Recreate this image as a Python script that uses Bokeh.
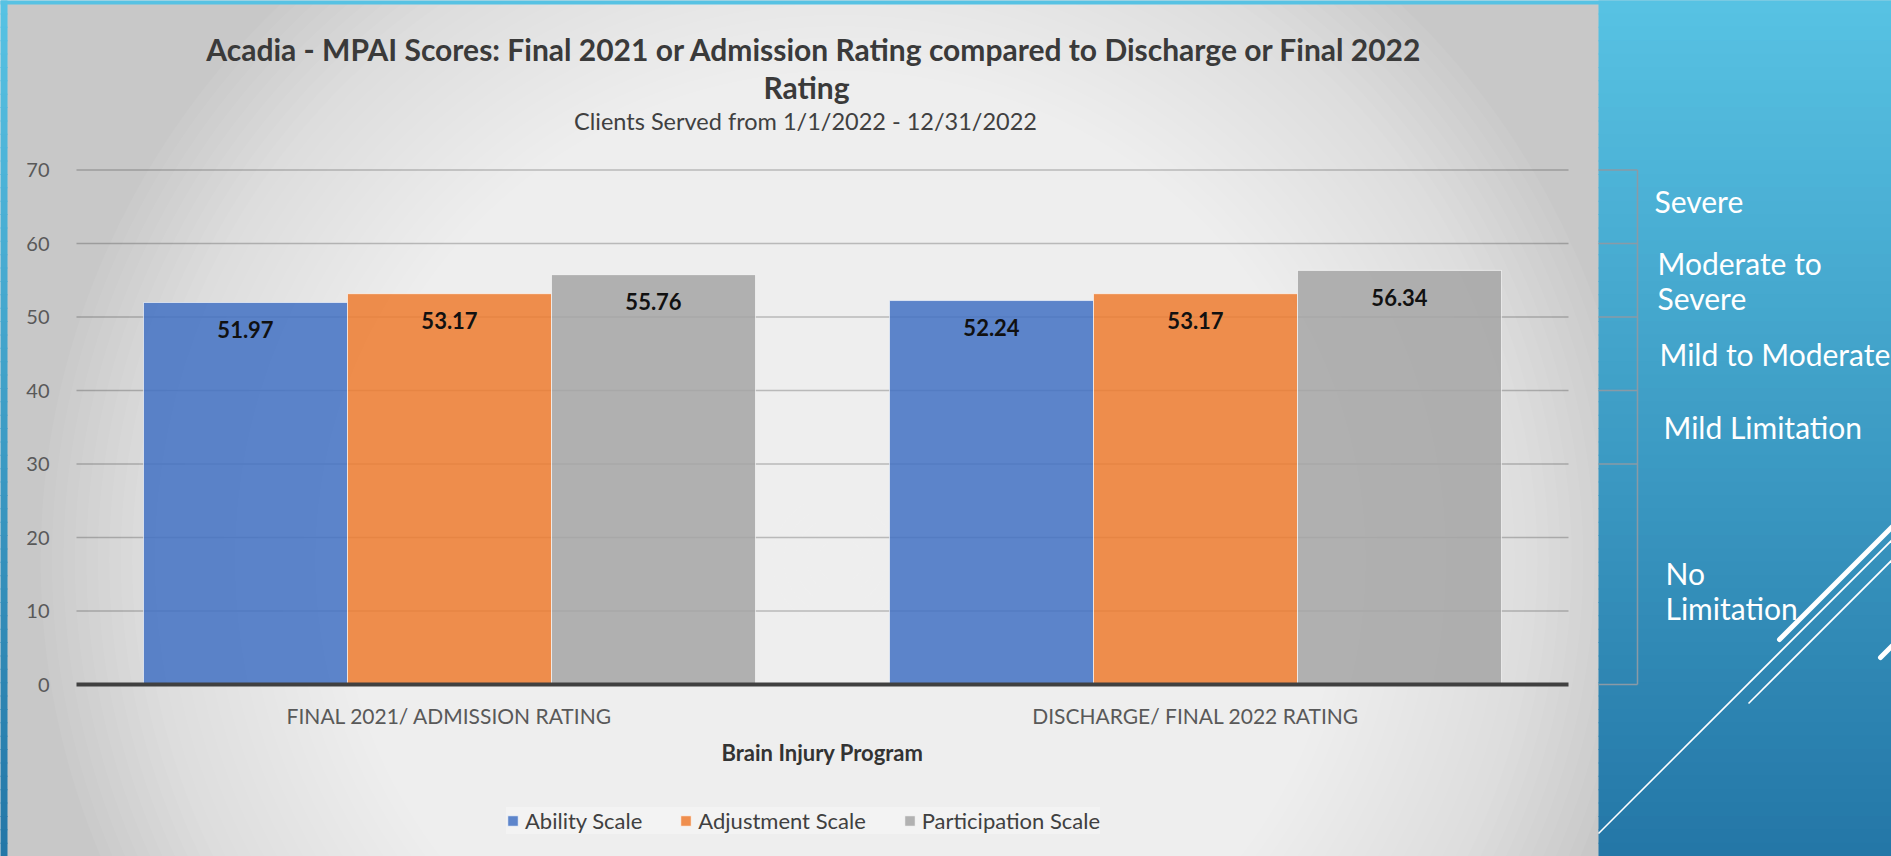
from bokeh.plotting import figure
from bokeh.models import Range1d, FixedTicker, LinearAxis, Legend, LegendItem, ColumnDataSource
from bokeh.core.properties import value
from bokeh.embed import file_html
from bokeh.resources import INLINE

# ---------------- data ----------------
categories = ["FINAL 2021/ ADMISSION RATING", "DISCHARGE/ FINAL 2022 RATING"]
series_names = ["Ability Scale", "Adjustment Scale", "Participation Scale"]
ability = [51.97, 52.24]
adjustment = [53.17, 53.17]
participation = [55.76, 56.34]
y_ticks = [0, 10, 20, 30, 40, 50, 60, 70]
band_edges = [70, 60, 50, 40, 30, 0]
band_labels = ["Severe", "Moderate to\nSevere", "Mild to Moderate", "Mild Limitation", "No\nLimitation"]

title_lines = ["Acadia - MPAI Scores: Final 2021 or Admission Rating compared to Discharge or Final 2022",
               "Rating"]
subtitle = "Clients Served from 1/1/2022 - 12/31/2022"
x_axis_title = "Brain Injury Program"

# ---------------- layout / style ----------------
W, H = 1891, 856
PANEL_L, PANEL_T, PANEL_R = 7, 4, 1598
PLOT_L, PLOT_R = 76, 1568
PLOT_T, PLOT_B = 169.5, 684
Y_MAX = 70
ppu_y = (PLOT_B - PLOT_T) / Y_MAX
ppu_x = (PLOT_R - PLOT_L) / len(categories)
x_start = -0.5 - PLOT_L / ppu_x
x_end = x_start + W / ppu_x
y_start = -(H - PLOT_B) / ppu_y
y_end = Y_MAX + PLOT_T / ppu_y
BAR_W = 204 / ppu_x
colors = ["#4472C4", "#ED7D31", "#A5A5A5"]
FONT = "Lato"
PX = dict(x_range_name="px", y_range_name="py")

p = figure(width=W, height=H, x_range=Range1d(x_start, x_end), y_range=Range1d(y_start, y_end),
           output_backend="svg", toolbar_location=None, x_axis_location=None, y_axis_location=None,
           min_border=0, outline_line_color=None,
           background_fill_color="#c8c8c8", border_fill_color="#c8c8c8")
p.grid.visible = False
p.extra_x_ranges = {"px": Range1d(0, W)}
p.extra_y_ranges = {"py": Range1d(H, 0)}

# panel background: soft radial light
N = 70
cx, cy = 840, 560
for k in range(N, 0, -1):
    p.ellipse(x=[cx], y=[cy], width=[2 * 800 * k / N], height=[2 * 780 * k / N],
              fill_color="white", fill_alpha=0.0544, line_color=None, **PX)

# slide background (blue gradient) around the panel
nb = 64
top_c = (0x57, 0xc2, 0xe3)
bot_c = (0x24, 0x77, 0xa7)
bh = H / nb
bl, br, bt, bb, bc = [], [], [], [], []
for i in range(nb):
    t = i / (nb - 1)
    c = "#%02x%02x%02x" % tuple(int(round(top_c[j] + (bot_c[j] - top_c[j]) * t)) for j in range(3))
    for (l, r) in [(PANEL_R, W + 5), (-5, PANEL_L)]:
        bl.append(l); br.append(r)
        bt.append(i * bh - 0.5); bb.append((i + 1) * bh + 0.5)
        bc.append(c)
bl.append(-5); br.append(W + 5); bt.append(-5); bb.append(PANEL_T); bc.append("#%02x%02x%02x" % top_c)
p.quad(left=bl, right=br, top=bt, bottom=bb, fill_color=bc, line_color=None, **PX)

# decorative white strokes
p.segment(x0=[1598, 1748], y0=[833, 703], x1=[1900, 1900], y1=[531, 551],
          line_color="white", line_width=1.6, **PX)
p.segment(x0=[1779, 1880], y0=[639, 657], x1=[1900, 1900], y1=[518, 637],
          line_color="white", line_width=5, line_cap="round", **PX)

# brackets + band labels on the slide
p.segment(x0=[PANEL_R] * len(band_edges), x1=[PANEL_R + 39] * len(band_edges),
          y0=band_edges, y1=band_edges, line_color="#8a9aa6", line_width=1.5, x_range_name="px")
p.segment(x0=[PANEL_R + 39], x1=[PANEL_R + 39], y0=[min(band_edges)], y1=[max(band_edges)],
          line_color="#8a9aa6", line_width=1.5, x_range_name="px")
band_mid = [(band_edges[i] + band_edges[i + 1]) / 2 for i in range(len(band_labels))]
nudge_x = [-4, -1, 1, 5, 7]
nudge_y = [-6, 0, 0, 0, 16]
bsrc = ColumnDataSource(dict(x=[1658] * len(band_labels), y=band_mid, text=band_labels,
                             dx=nudge_x, dy=nudge_y))
p.text(x="x", y="y", text="text", x_offset="dx", y_offset="dy", source=bsrc, x_range_name="px",
       text_font=value(FONT), text_font_size="30px", text_color="white",
       text_align="left", text_baseline="middle", text_line_height=0.98)

# gridlines (under the semi-transparent bars)
p.segment(x0=[-0.5] * (len(y_ticks) - 1), x1=[len(categories) - 0.5] * (len(y_ticks) - 1),
          y0=y_ticks[1:], y1=y_ticks[1:], line_color="black", line_alpha=0.22, line_width=1.3)

# bars + labels
renderers = []
offsets = [-BAR_W, 0, BAR_W]
for vals, name, col, off in zip([ability, adjustment, participation], series_names, colors, offsets):
    src = ColumnDataSource(dict(x=[i + off for i in range(len(categories))], top=vals,
                                lab=["%.2f" % v for v in vals]))
    r = p.vbar(x="x", top="top", bottom=0, width=BAR_W, source=src, fill_color=col, fill_alpha=0.86,
               line_color="white", line_alpha=0.6, line_width=1)
    renderers.append((name, r))
    p.text(x="x", y="top", text="lab", source=src, y_offset=27, text_align="center",
           text_baseline="middle", text_font=value(FONT), text_font_style="bold",
           text_font_size="22px", text_color="#111111")

# axes
xaxis = LinearAxis(fixed_location=0, bounds=(-0.5, len(categories) - 0.5),
                   ticker=FixedTicker(ticks=list(range(len(categories)))),
                   major_label_overrides={i: c for i, c in enumerate(categories)},
                   axis_label=x_axis_title,
                   axis_line_color="#404040", axis_line_width=4,
                   major_tick_line_color=None, minor_tick_line_color=None,
                   major_tick_out=0, major_tick_in=0,
                   major_label_standoff=18, axis_label_standoff=8,
                   major_label_text_font=FONT, major_label_text_font_size="21px",
                   major_label_text_color="#595959",
                   axis_label_text_font=FONT, axis_label_text_font_style="bold",
                   axis_label_text_font_size="22px", axis_label_text_color="#333333")
p.add_layout(xaxis, "below")
yaxis = LinearAxis(fixed_location=-0.5, bounds=(0, Y_MAX), ticker=FixedTicker(ticks=y_ticks),
                   axis_line_color=None, major_tick_line_color=None, minor_tick_line_color=None,
                   major_tick_out=0, major_tick_in=0, major_label_standoff=27,
                   major_label_text_font=FONT, major_label_text_font_size="20px",
                   major_label_text_color="#595959")
p.add_layout(yaxis, "left")

# titles
p.text(x=[814, 806], y=[48, 86], text=title_lines, text_align="center", text_baseline="middle",
       text_font=value(FONT), text_font_style="bold", text_font_size="30px",
       text_color="#3a3a3a", **PX)
p.text(x=[805], y=[120], text=[subtitle], text_align="center", text_baseline="middle",
       text_font=value(FONT), text_font_size="23.5px", text_color="#404040", **PX)

# legend
legend = Legend(items=[LegendItem(label=n, renderers=[r]) for n, r in renderers],
                orientation="horizontal", location=(506, 22), padding=16, spacing=37,
                label_standoff=6, glyph_width=13, glyph_height=13,
                label_text_font=FONT, label_text_font_size="22px", label_text_color="#404040",
                background_fill_color="white", background_fill_alpha=0.3,
                border_line_color=None)
p.add_layout(legend)

open("out.html", "w").write(file_html(p, INLINE))
